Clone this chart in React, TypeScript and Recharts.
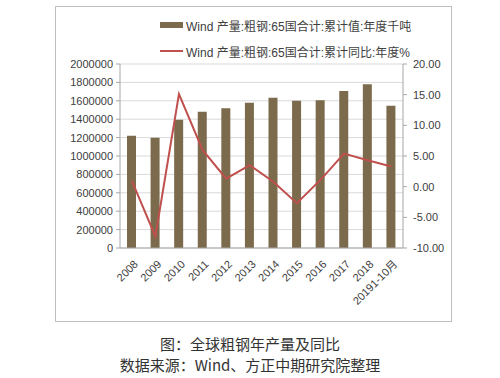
import React from 'react';
import { ComposedChart, Bar, Line, XAxis, YAxis, CartesianGrid } from 'recharts';

const years = ['2008', '2009', '2010', '2011', '2012', '2013', '2014', '2015', '2016', '2017', '2018', '20191-10月'];
const output = [1220000, 1199000, 1395000, 1482000, 1518000, 1579000, 1634000, 1601000, 1606000, 1707000, 1779000, 1547000];
const yoy = [1.0, -8.1, 15.1, 6.0, 1.3, 3.5, 0.8, -2.7, 1.1, 5.4, 4.3, 3.3];
const leftTicks = [0, 200000, 400000, 600000, 800000, 1000000, 1200000, 1400000, 1600000, 1800000, 2000000];
const rightTicks = [-10, -5, 0, 5, 10, 15, 20];

const barName = 'Wind 产量:粗钢:65国合计:累计值:年度千吨';
const lineName = 'Wind 产量:粗钢:65国合计:累计同比:年度%';

const data = years.map((year, i) => ({ year, output: output[i], yoy: yoy[i] }));

const BAR_COLOR = '#7B6A4C';
const LINE_COLOR = '#C0504D';
const AXIS_COLOR = '#A6A6A6';
const TEXT_COLOR = '#404040';
const FONT = '"Liberation Sans", "Noto Sans CJK SC", sans-serif';

const AngledTick = (props: any) => {
  const { x, y, payload } = props;
  return (
    <g transform={`translate(${x + 4},${y + 6})`}>
      <text
        transform="rotate(-45)"
        textAnchor="end"
        dy={4}
        fontSize={11}
        fill={TEXT_COLOR}
        fontFamily={FONT}
      >
        {payload.value}
      </text>
    </g>
  );
};

const LegendBox = () => (
  <div style={{ position: 'absolute', left: 160, top: 16, fontFamily: FONT, fontSize: 12, color: TEXT_COLOR }}>
    <div style={{ display: 'flex', alignItems: 'center', height: 18 }}>
      <span style={{ display: 'inline-block', width: 23, height: 6, background: BAR_COLOR, marginRight: 3 }} />
      {barName}
    </div>
    <div style={{ display: 'flex', alignItems: 'center', height: 18, marginTop: 8 }}>
      <span style={{ display: 'inline-block', width: 23, height: 2, background: LINE_COLOR, marginRight: 3 }} />
      {lineName}
    </div>
  </div>
);

export default function App() {
  return (
    <div style={{ position: 'absolute', left: 0, top: 0, width: 500, height: 378, background: '#fff' }}>
      <div
        style={{
          position: 'absolute',
          left: 55,
          top: 6,
          width: 397,
          height: 316,
          border: '1px solid #BFBFBF',
          boxSizing: 'border-box',
        }}
      />
      <div style={{ position: 'absolute', left: 0, top: 0 }}>
        <ComposedChart
          width={500}
          height={330}
          data={data}
          margin={{ top: 64, right: 0, bottom: 0, left: 0 }}
        >
          <CartesianGrid yAxisId="left" vertical={false} stroke="#D9D9D9" />
          <XAxis
            xAxisId="ticks"
            type="number"
            domain={[0, 12]}
            ticks={[0, 1, 2, 3, 4, 5, 6, 7, 8, 9, 10, 11, 12]}
            tick={false}
            tickSize={4}
            tickLine={{ stroke: AXIS_COLOR }}
            axisLine={false}
            height={0}
          />
          <XAxis
            dataKey="year"
            interval={0}
            tickLine={false}
            axisLine={{ stroke: AXIS_COLOR }}
            tick={<AngledTick />}
            height={82}
          />
          <YAxis
            yAxisId="left"
            domain={[0, 2000000]}
            ticks={leftTicks}
            interval={0}
            width={120}
            tickSize={4}
            tickMargin={3}
            tickLine={{ stroke: AXIS_COLOR }}
            axisLine={{ stroke: AXIS_COLOR }}
            tick={{ fontSize: 11, fill: TEXT_COLOR, fontFamily: FONT }}
          />
          <YAxis
            yAxisId="right"
            orientation="right"
            domain={[-10, 20]}
            ticks={rightTicks}
            interval={0}
            width={97}
            tickSize={4}
            tickMargin={6}
            tickLine={{ stroke: AXIS_COLOR }}
            axisLine={{ stroke: AXIS_COLOR }}
            tickFormatter={(v: number) => v.toFixed(2)}
            tick={{ fontSize: 11, fill: TEXT_COLOR, fontFamily: FONT }}
          />
          <Bar
            yAxisId="left"
            dataKey="output"
            name={barName}
            fill={BAR_COLOR}
            barSize={9}
            isAnimationActive={false}
          />
          <Line
            yAxisId="right"
            dataKey="yoy"
            name={lineName}
            stroke={LINE_COLOR}
            strokeWidth={2}
            dot={false}
            type="linear"
            isAnimationActive={false}
          />
        </ComposedChart>
      </div>
      <LegendBox />
      <div
        style={{
          position: 'absolute',
          left: 0,
          top: 333,
          width: 500,
          textAlign: 'center',
          fontFamily: '"Noto Sans CJK SC", serif',
          fontSize: 15,
          lineHeight: '21px',
          color: '#333',
        }}
      >
        <div>图：全球粗钢年产量及同比</div>
        <div>数据来源：Wind、方正中期研究院整理</div>
      </div>
    </div>
  );
}
